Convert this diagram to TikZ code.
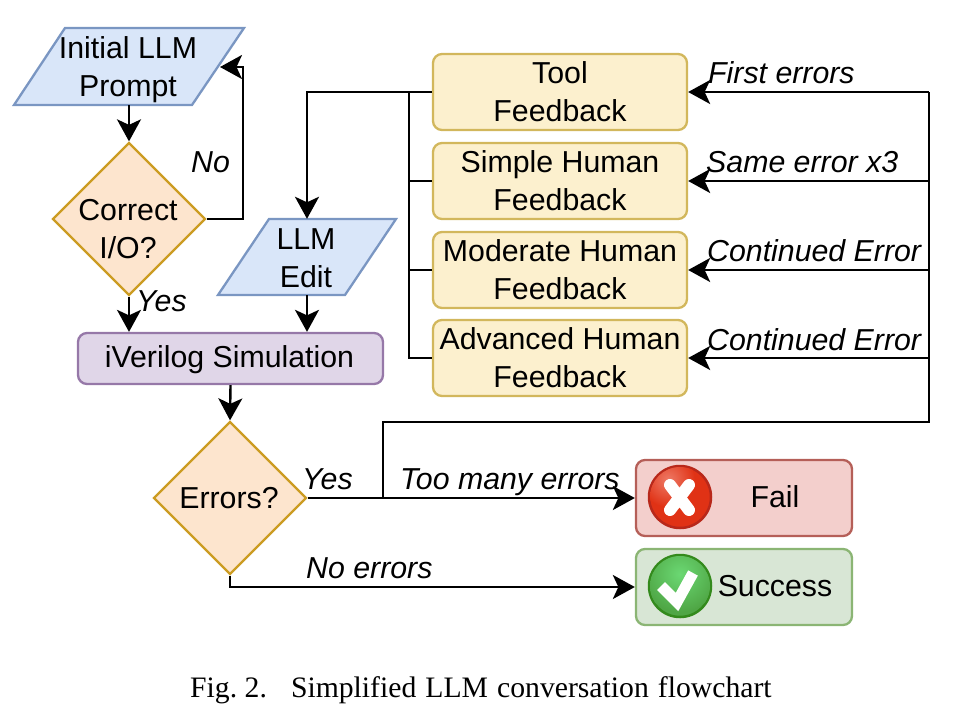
\documentclass[tikz,border=0pt]{standalone}
\usepackage{fontspec}
\setmainfont{Liberation Sans}
\newfontfamily\capfont{Liberation Serif}
\usetikzlibrary{arrows.meta,shapes.geometric,calc}
\definecolor{blueF}{HTML}{D9E6F9}\definecolor{blueD}{HTML}{7A96C2}
\definecolor{orF}{HTML}{FDE5CE}\definecolor{orD}{HTML}{CC9C22}
\definecolor{yeF}{HTML}{FCF0CE}\definecolor{yeD}{HTML}{D2B75C}
\definecolor{puF}{HTML}{E0D6E8}\definecolor{puD}{HTML}{9678A8}
\definecolor{reF}{HTML}{F3CFCC}\definecolor{reD}{HTML}{B55F58}
\definecolor{grF}{HTML}{D8E6D5}\definecolor{grD}{HTML}{8BB574}
\definecolor{xIn}{HTML}{EE7A66}\definecolor{xOut}{HTML}{E03215}\definecolor{xD}{HTML}{B8281A}
\definecolor{vIn}{HTML}{6BD873}\definecolor{vOut}{HTML}{4FA645}\definecolor{vD}{HTML}{338A1C}
\tikzset{
  x=1pt,y=-1pt,
  every node/.style={font=\fontsize{30.3}{38}\selectfont,align=center,text=black},
  bx/.style={rounded corners=9,line width=2.3,minimum width=#1,inner sep=0},
  fb/.style={bx=254,minimum height=76,draw=yeD,fill=yeF},
  para/.style={fill=blueF,draw=blueD,line width=2.3,line join=miter},
  dia/.style={diamond,aspect=1,minimum size=153,inner sep=0,draw=orD,fill=orF,line width=2.3},
  conn/.style={line width=2.4,black},
  arr/.style={conn,-{Stealth[length=22,width=24,inset=5.5]}},
  lab/.style={font=\fontsize{30.3}{34}\selectfont\itshape,anchor=base west,inner sep=0},
}
\begin{document}
\begin{tikzpicture}
\useasboundingbox (0,0) rectangle (959,724);
% parallelograms
\draw[para] (65,28) -- (244,28) -- (192,105) -- (14,105) -- cycle;
\node[minimum width=178,minimum height=77,inner sep=0] (prompt) at (129,66.5) {};
\node[inner sep=0] (prompttxt) at (128,70) {Initial LLM\\Prompt};
\draw[para] (269,219) -- (396,219) -- (345,295) -- (218,295) -- cycle;
\node[minimum width=127,minimum height=76,inner sep=0] (edit) at (307,257) {};
\node[inner sep=0] (edittxt) at (306,258) {LLM\\Edit};
% diamonds
\node[dia] (correct) at (129,219) {};
\node[inner sep=0] (correcttxt) at (128,229) {Correct\\I/O?};
\node[dia] (errors) at (230,498) {};
\node[inner sep=0] (errorstxt) at (229,498) {Errors?};
% boxes
\node[bx=305,minimum height=51,draw=puD,fill=puF] (sim) at (230.5,358.5) {};
\node[inner sep=0] (simtxt) at (229.5,359.5) {iVerilog Simulation};
\node[fb] (tool) at (560,92) {Tool\\Feedback};
\node[fb] (simple) at (560,181) {Simple Human\\Feedback};
\node[fb] (moderate) at (560,270) {Moderate Human\\Feedback};
\node[fb] (advanced) at (560,358) {Advanced Human\\Feedback};
\node[bx=216,minimum height=76,draw=reD,fill=reF] (fail) at (744,498) {};
\node[bx=216,minimum height=76,draw=grD,fill=grF] (success) at (744,587) {};
\node (failtxt) at (775,497) {Fail};
\node (succtxt) at (775,586) {Success};
% icons
\path[draw=xD,line width=2.5,fill=xOut] (680,497) circle (31);
\begin{scope}
\clip (680,497) circle (30);
\shade[inner color=xIn,outer color=xOut] (668,480) circle (27);
\end{scope}
\draw[white,line width=12,line cap=round] (670,485) -- (689,510) (689,485) -- (670,510);
\path[draw=vD,line width=2.5,fill=vOut] (680,586) circle (31);
\begin{scope}
\clip (680,586) circle (30);
\shade[inner color=vIn,outer color=vOut] (680,574) circle (38);
\end{scope}
\draw[white,line width=11,line join=miter] (661,586) -- (677,602) -- (693,573);
% connector joints
\coordinate (noA) at (243,219);
\coordinate (noB) at (243,67);
\coordinate (noC) at (220,67);
\coordinate (busL) at (409,92);
\coordinate (edT) at (307,92);
\coordinate (busLb) at (409,358);
\coordinate (busRt) at (929,92);
\coordinate (busRb) at (929,422);
\coordinate (loop) at (383,422);
\coordinate (loopB) at (383,498);
\coordinate (sB) at (230,587);
% connectors
\draw[arr] (prompt.south) -- (correct.north);
\draw[arr] (correct.east) -- (noA) -- (noB) -- (noC);
\draw[arr] (correct.south) -- (correct.south |- sim.north);
\draw[arr] (edit.south) -- (edit.south |- sim.north);
\draw[arr] (sim.south) -- (errors.north);
\draw[arr] (tool.west) -- (edT) -- (edit.north);
\draw[conn] (busL) -- (busLb) -- (advanced.west);
\draw[conn] (simple.west) -- (busL |- simple.west);
\draw[conn] (moderate.west) -- (busL |- moderate.west);
\draw[arr] (errors.east) -- (fail.west);
\draw[conn] (loopB) -- (loop) -- (busRb) -- (busRt);
\draw[arr] (busRt) -- (tool.east);
\draw[arr] (busRt |- simple.east) -- (simple.east);
\draw[arr] (busRt |- moderate.east) -- (moderate.east);
\draw[arr] (busRt |- advanced.east) -- (advanced.east);
\draw[arr] (errors.south) -- (sB) -- (success.west);
% labels
\node[lab] (l1) at (191,172) {No};
\node[lab] (l2) at (136,311) {Yes};
\node[lab] (l3) at (708,83) {First errors};
\node[lab] (l4) at (706,172) {Same error x3};
\node[lab] (l5) at (707,261) {Continued Error};
\node[lab] (l6) at (707,350) {Continued Error};
\node[lab] (l7) at (302,489) {Yes};
\node[lab] (l8) at (400,489) {Too many errors};
\node[lab] (l9) at (306,578) {No errors};
\node[font=\fontsize{29.7}{32}\capfont,anchor=base west,inner sep=0] (cap) at (190,697) {\spaceskip=9pt Fig.\hspace{7.5pt}2.\hspace{24pt}Simplified LLM conversation flowchart};
\end{tikzpicture}
\end{document}
